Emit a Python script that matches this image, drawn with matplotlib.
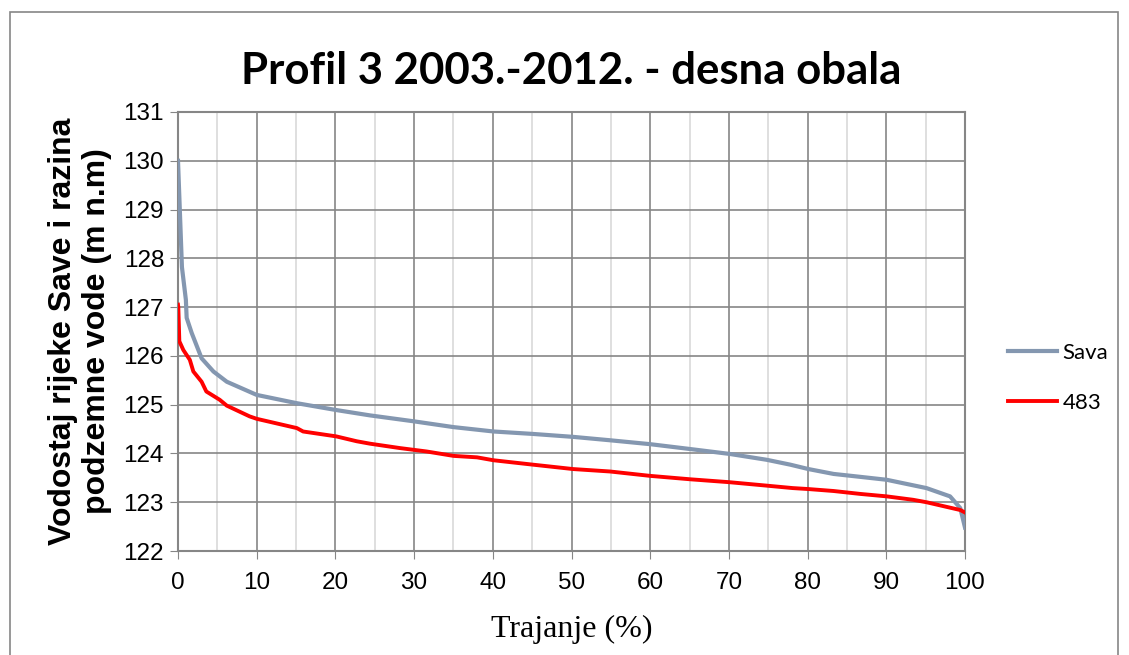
import matplotlib
matplotlib.use("Agg")
import matplotlib.pyplot as plt
from matplotlib.patches import Rectangle
from matplotlib.ticker import MultipleLocator

# duration curve values
sava_x = [0, 0.5, 1.0, 1.1, 1.74, 3.0, 4.5, 6.2, 10, 15.1, 20.1, 24.4, 29.9, 35.0,
          40.1, 45.1, 50.2, 54.9, 60.0, 65.1, 70.1, 74.8, 77.8, 80.1, 83.3, 86.7,
          90.05, 95.1, 98.1, 99.4, 100]
sava_y = [130.0, 127.82, 127.15, 126.78, 126.47, 125.95, 125.68, 125.47, 125.2, 125.03,
          124.89, 124.78, 124.66, 124.54, 124.45, 124.40, 124.34, 124.27, 124.19, 124.09,
          123.99, 123.87, 123.77, 123.68, 123.58, 123.52, 123.46, 123.29, 123.12, 122.88,
          122.48]

p483_x = [0, 0.04, 0.17, 0.68, 1.5, 1.95, 3.0, 3.6, 5.3, 6.2, 9.1, 10, 15.1, 15.9, 20.1,
          22.7, 24.4, 28.2, 31.6, 35.0, 38.0, 40.1, 45.1, 50.2, 54.9, 60.0, 65.1, 70.1,
          74.8, 78.1, 80.1, 83.3, 86.7, 90.05, 93.4, 95.1, 99.4, 100]
p483_y = [127.05, 127.0, 126.3, 126.12, 125.92, 125.68, 125.47, 125.27, 125.1, 124.98,
          124.76, 124.71, 124.52, 124.45, 124.35, 124.25, 124.2, 124.11, 124.04, 123.95,
          123.92, 123.86, 123.77, 123.68, 123.63, 123.54, 123.47, 123.41, 123.34, 123.29,
          123.27, 123.23, 123.17, 123.12, 123.05, 123.0, 122.84, 122.79]

labels = ["Sava", "483"]
title = "Profil 3 2003.-2012. - desna obala"
ylabel = "Vodostaj rijeke Save i razina\npodzemne vode (m n.m)"
xlabel = "Trajanje (%)"

fig = plt.figure(figsize=(11.29, 6.55), dpi=100)
ax = fig.add_axes([178 / 1129, 1 - 551 / 655, (965 - 178) / 1129, (551 - 112) / 655])

# outer chart border
fig.patches.append(Rectangle((10 / 1129, -0.05), (1118 - 10) / 1129, 1.05 - 12 / 655,
                             transform=fig.transFigure, fill=False,
                             edgecolor="#868686", lw=1.2))

ax.plot(sava_x, sava_y, color="#8497B0", lw=3.0, label=labels[0], zorder=3)
ax.plot(p483_x, p483_y, color="#FF0000", lw=2.8, label=labels[1], zorder=3)

ax.set_xlim(0, 100)
ax.set_ylim(122, 131)
ax.xaxis.set_major_locator(MultipleLocator(10))
ax.xaxis.set_minor_locator(MultipleLocator(5))
ax.yaxis.set_major_locator(MultipleLocator(1))

ax.grid(which="major", color="#868686", lw=1.2)
ax.grid(which="minor", axis="x", color="#D9D9D9", lw=1.2)
ax.set_axisbelow(True)
for s in ax.spines.values():
    s.set_color("#868686")
    s.set_linewidth(1.5)
ax.tick_params(which="major", length=6, color="#868686", labelsize=17.5)
ax.tick_params(axis="x", pad=9)
ax.tick_params(axis="y", pad=4)
ax.tick_params(which="minor", length=0)
for t in ax.get_xticklabels() + ax.get_yticklabels():
    t.set_fontfamily("Liberation Sans")

ax.set_title(title, fontsize=31.5, fontweight="bold", family="Lato", pad=20)
ax.set_ylabel(ylabel, fontsize=23, fontweight="bold", family="Liberation Sans", labelpad=8)
ax.set_xlabel(xlabel, fontsize=23, family="Liberation Serif", labelpad=15)

fig.legend(loc="center left", bbox_to_anchor=(988 / 1129, 1 - 378 / 655), frameon=False,
           prop={"family": "Lato", "size": 16}, handlelength=2.2, labelspacing=1.35,
           handletextpad=0.25)

fig.savefig("out.png", dpi=100)
